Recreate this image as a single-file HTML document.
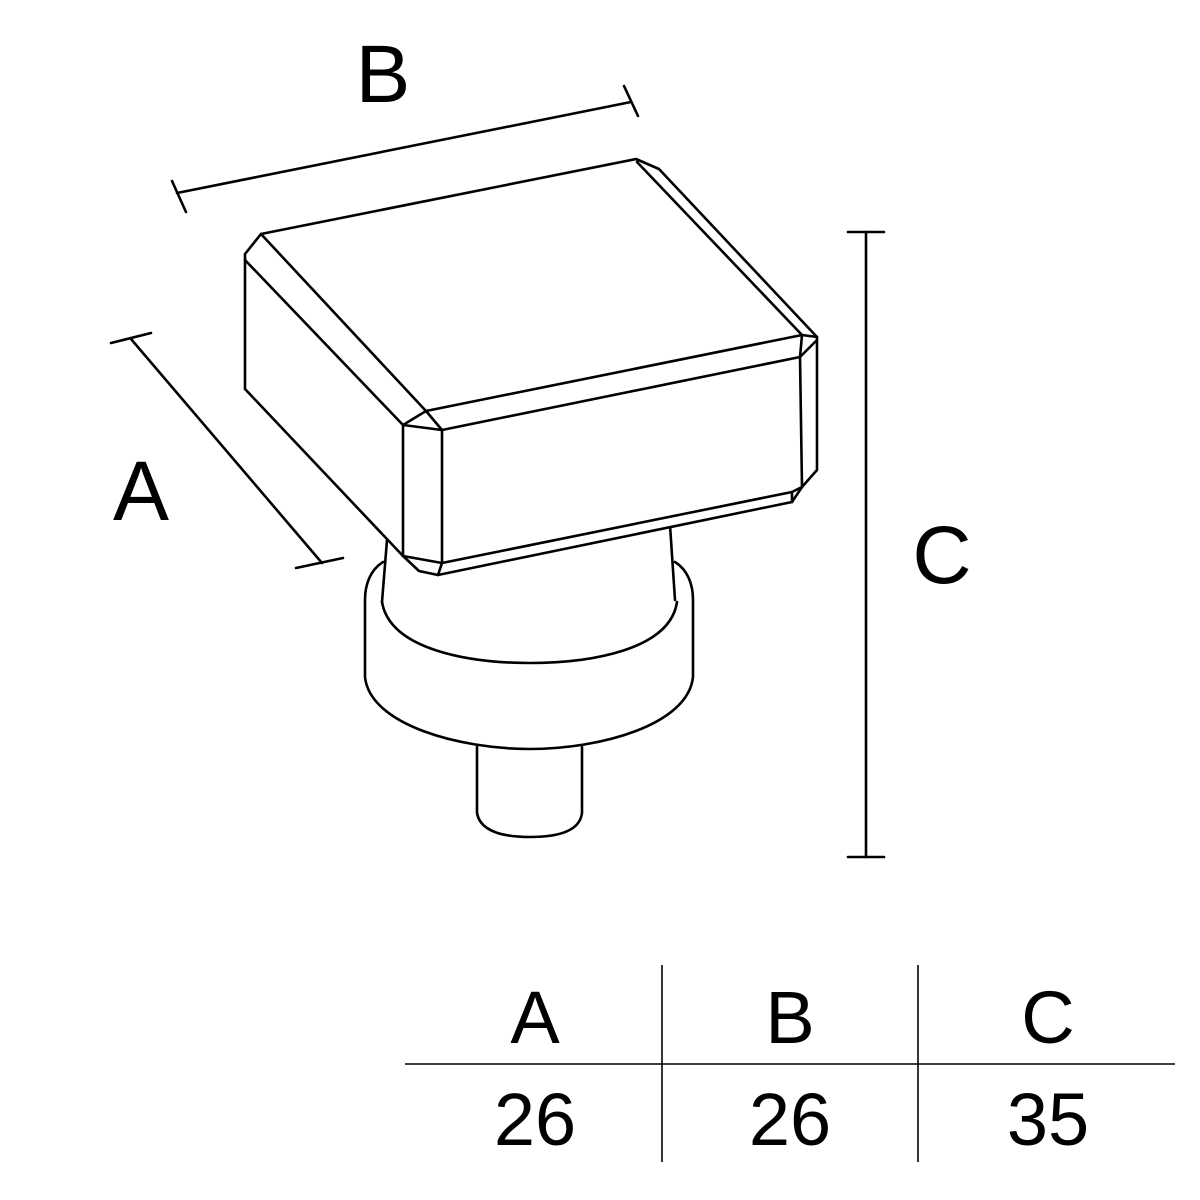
<!DOCTYPE html>
<html><head><meta charset="utf-8"><style>html,body{margin:0;padding:0;background:#fff}svg{display:block}</style></head>
<body>
<svg width="1200" height="1200" viewBox="0 0 1200 1200" xmlns="http://www.w3.org/2000/svg">
<g fill="none" stroke="#000" stroke-width="2.6" stroke-linejoin="round" stroke-linecap="round">
<!-- B dimension -->
<line x1="177" y1="193" x2="631" y2="102"/>
<line x1="172" y1="181" x2="186" y2="212"/>
<line x1="624" y1="86" x2="638" y2="116"/>
<!-- A dimension -->
<line x1="131" y1="339" x2="322" y2="563"/>
<line x1="111" y1="343" x2="151" y2="333"/>
<line x1="296" y1="568" x2="343" y2="558"/>
<!-- C dimension -->
<line x1="866" y1="232" x2="866" y2="857"/>
<line x1="848" y1="232" x2="884" y2="232"/>
<line x1="848" y1="857" x2="884" y2="857"/>

<!-- stem -->
<line x1="387" y1="540" x2="382" y2="602"/>
<line x1="670" y1="525" x2="675" y2="600"/>
<!-- collar -->
<path d="M383 562 C370 570 365 585 365 600 L365 677 C370 725 460 749 530 749 C600 749 688 725 693 677 L693 600 C693 585 688 570 675 562"/>
<path d="M382 602 C390 650 470 663 530 663 C590 663 670 650 677 602"/>
<!-- pin -->
<path d="M477 747 L477 813 C480 830 500 837 530 837 C560 837 580 830 582 813 L582 747"/>

<!-- head -->
<path fill="#fff" d="M261 234 L636 159 L659 169 L817 337 L817 470 L802 487 L792 502 L438 575 L419 571 L403 556 L245 389 L245 254 Z"/>
<line x1="261" y1="234" x2="426" y2="411"/>
<line x1="245" y1="260" x2="403" y2="425"/>
<line x1="637" y1="162" x2="802" y2="335"/>
<line x1="426" y1="411" x2="802" y2="335"/>
<line x1="802" y1="335" x2="817" y2="337"/>
<line x1="442" y1="430" x2="800" y2="357"/>
<line x1="800" y1="357" x2="817" y2="340"/>
<line x1="802" y1="335" x2="800" y2="357"/>
<line x1="800" y1="357" x2="802" y2="487"/>
<path d="M403 556 L403 425 L426 411 L442 430 L442 563 L438 575"/>
<line x1="403" y1="425" x2="442" y2="430"/>
<line x1="403" y1="556" x2="442" y2="563"/>
<line x1="442" y1="563" x2="792" y2="492"/>
<line x1="792" y1="492" x2="802" y2="487"/>
<line x1="792" y1="492" x2="792" y2="502"/>
</g>

<g fill="#000" font-family="Liberation Sans, DejaVu Sans, sans-serif" text-anchor="middle">
<text x="383" y="102" font-size="82">B</text>
<text x="141" y="520" font-size="84">A</text>
<text x="942" y="583" font-size="82">C</text>
<text x="535" y="1043" font-size="74">A</text>
<text x="790" y="1043" font-size="74">B</text>
<text x="1048" y="1043" font-size="74">C</text>
<text x="535" y="1145" font-size="74">26</text>
<text x="790" y="1145" font-size="74">26</text>
<text x="1048" y="1145" font-size="74">35</text>
</g>
<g stroke="#000" stroke-width="1.6">
<line x1="405" y1="1064" x2="1175" y2="1064"/>
<line x1="662" y1="965" x2="662" y2="1162"/>
<line x1="918" y1="965" x2="918" y2="1162"/>
</g>
</svg>
</body></html>
